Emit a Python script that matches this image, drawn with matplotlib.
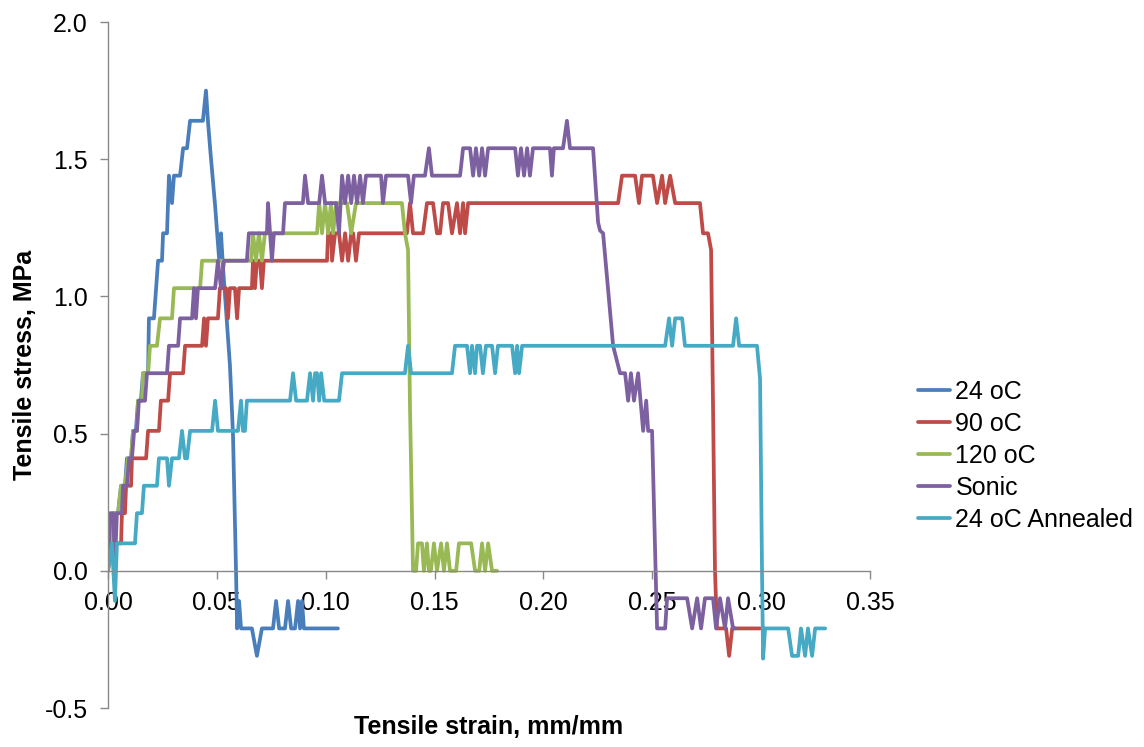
import matplotlib
matplotlib.use("Agg")
import matplotlib.pyplot as plt

plt.rcParams['font.family'] = ['Liberation Sans', 'DejaVu Sans']

series_names = ["24 oC", "90 oC", "120 oC", "Sonic", "24 oC Annealed"]
series_colors = ["#4A7EBB", "#BE4B48", "#98B954", "#7D60A0", "#46AAC5"]

strain_24 = [0.0000, 0.0009, 0.0018, 0.0028, 0.0046, 0.0060, 0.0078, 0.0087, 0.0106, 0.0115,
             0.0128, 0.0138, 0.0151, 0.0161, 0.0184, 0.0188, 0.0211, 0.0230, 0.0248, 0.0253,
             0.0271, 0.0280, 0.0294, 0.0303, 0.0331, 0.0345, 0.0363, 0.0377, 0.0436, 0.0450,
             0.0459, 0.0469, 0.0492, 0.0510, 0.0519, 0.0528, 0.0560, 0.0574, 0.0588, 0.0593,
             0.0602, 0.0611, 0.0661, 0.0684, 0.0707, 0.0758, 0.0772, 0.0786, 0.0813, 0.0827,
             0.0841, 0.0859, 0.0873, 0.0882, 0.0891, 0.0900, 0.1056]
stress_24 = [0.00, 0.10, 0.10, 0.21, 0.21, 0.31, 0.31, 0.41, 0.41, 0.51,
             0.51, 0.62, 0.62, 0.72, 0.72, 0.92, 0.92, 1.13, 1.13, 1.23,
             1.23, 1.44, 1.34, 1.44, 1.44, 1.54, 1.54, 1.64, 1.64, 1.75,
             1.64, 1.54, 1.33, 1.14, 1.23, 1.11, 0.75, 0.50, 0.00, -0.21,
             -0.11, -0.21, -0.21, -0.31, -0.21, -0.21, -0.11, -0.21, -0.21, -0.11,
             -0.21, -0.21, -0.11, -0.21, -0.11, -0.21, -0.21]

strain_90 = [0.0000, 0.0014, 0.0060, 0.0064, 0.0078, 0.0083, 0.0106, 0.0110, 0.0175, 0.0184,
             0.0234, 0.0243, 0.0276, 0.0285, 0.0345, 0.0354, 0.0432, 0.0441, 0.0450, 0.0459,
             0.0505, 0.0514, 0.0542, 0.0551, 0.0560, 0.0583, 0.0593, 0.0602, 0.0661, 0.0666,
             0.0675, 0.0684, 0.0698, 0.0707, 0.0716, 0.1006, 0.1011, 0.1025, 0.1029, 0.1043,
             0.1061, 0.1075, 0.1089, 0.1103, 0.1117, 0.1126, 0.1139, 0.1153, 0.1373, 0.1387,
             0.1401, 0.1447, 0.1465, 0.1493, 0.1511, 0.1525, 0.1539, 0.1562, 0.1580, 0.1603,
             0.1617, 0.1631, 0.1640, 0.1654, 0.2343, 0.2361, 0.2421, 0.2439, 0.2453, 0.2503,
             0.2522, 0.2545, 0.2559, 0.2582, 0.2605, 0.2719, 0.2733, 0.2756, 0.2770, 0.2779,
             0.2788, 0.2797, 0.2839, 0.2853, 0.2867, 0.2995]
stress_90 = [0.00, 0.10, 0.10, 0.21, 0.21, 0.31, 0.31, 0.41, 0.41, 0.51,
             0.51, 0.62, 0.62, 0.72, 0.72, 0.82, 0.82, 0.92, 0.82, 0.92,
             0.92, 1.03, 1.03, 0.92, 1.03, 1.03, 0.92, 1.03, 1.03, 1.13,
             1.03, 1.13, 1.13, 1.03, 1.13, 1.13, 1.23, 1.23, 1.13, 1.23,
             1.23, 1.13, 1.23, 1.13, 1.23, 1.23, 1.13, 1.23, 1.23, 1.34,
             1.23, 1.23, 1.34, 1.34, 1.23, 1.23, 1.34, 1.34, 1.23, 1.34,
             1.23, 1.34, 1.23, 1.34, 1.34, 1.44, 1.44, 1.34, 1.44, 1.44,
             1.34, 1.44, 1.34, 1.44, 1.34, 1.34, 1.23, 1.23, 1.17, 0.60,
             0.00, -0.21, -0.21, -0.31, -0.21, -0.21]

strain_120 = [0.0000, 0.0005, 0.0018, 0.0028, 0.0046, 0.0060, 0.0078, 0.0092, 0.0106, 0.0115,
              0.0133, 0.0138, 0.0156, 0.0161, 0.0184, 0.0193, 0.0225, 0.0239, 0.0294, 0.0303,
              0.0423, 0.0432, 0.0657, 0.0666, 0.0680, 0.0693, 0.0707, 0.0721, 0.0960, 0.0970,
              0.0983, 0.0997, 0.1011, 0.1024, 0.1034, 0.1048, 0.1098, 0.1117, 0.1139, 0.1350,
              0.1364, 0.1378, 0.1387, 0.1401, 0.1415, 0.1424, 0.1442, 0.1451, 0.1465, 0.1474,
              0.1483, 0.1497, 0.1511, 0.1530, 0.1543, 0.1557, 0.1571, 0.1599, 0.1612, 0.1668,
              0.1686, 0.1705, 0.1718, 0.1732, 0.1746, 0.1764, 0.1787]
stress_120 = [0.00, 0.10, 0.10, 0.21, 0.21, 0.31, 0.31, 0.41, 0.41, 0.51,
              0.51, 0.62, 0.62, 0.72, 0.72, 0.82, 0.82, 0.92, 0.92, 1.03,
              1.03, 1.13, 1.13, 1.23, 1.13, 1.23, 1.13, 1.23, 1.23, 1.34,
              1.23, 1.34, 1.23, 1.34, 1.23, 1.34, 1.34, 1.23, 1.34, 1.34,
              1.23, 1.17, 0.60, 0.00, 0.00, 0.10, 0.10, 0.00, 0.10, 0.00,
              0.00, 0.10, 0.00, 0.10, 0.00, 0.10, 0.00, 0.00, 0.10, 0.10,
              0.00, 0.00, 0.10, 0.00, 0.10, 0.00, 0.00]

strain_sonic = [0.0000, 0.0009, 0.0023, 0.0032, 0.0041, 0.0064, 0.0069, 0.0087, 0.0097, 0.0110,
                0.0120, 0.0133, 0.0142, 0.0170, 0.0179, 0.0271, 0.0280, 0.0322, 0.0331, 0.0386,
                0.0395, 0.0404, 0.0413, 0.0492, 0.0505, 0.0519, 0.0533, 0.0638, 0.0647, 0.0730,
                0.0735, 0.0753, 0.0762, 0.0804, 0.0813, 0.0895, 0.0905, 0.0919, 0.0970, 0.0983,
                0.0997, 0.1048, 0.1061, 0.1075, 0.1089, 0.1103, 0.1117, 0.1130, 0.1144, 0.1158,
                0.1171, 0.1185, 0.1254, 0.1263, 0.1277, 0.1378, 0.1392, 0.1405, 0.1456, 0.1474,
                0.1488, 0.1617, 0.1631, 0.1663, 0.1677, 0.1690, 0.1705, 0.1718, 0.1732, 0.1746,
                0.1870, 0.1883, 0.1897, 0.1911, 0.1925, 0.1938, 0.1952, 0.2030, 0.2039, 0.2048,
                0.2090, 0.2108, 0.2122, 0.2228, 0.2251, 0.2260, 0.2274, 0.2320, 0.2352, 0.2375,
                0.2389, 0.2402, 0.2416, 0.2435, 0.2458, 0.2472, 0.2481, 0.2499, 0.2522, 0.2559,
                0.2568, 0.2660, 0.2683, 0.2706, 0.2724, 0.2742, 0.2779, 0.2793, 0.2811, 0.2834,
                0.2848, 0.2871, 0.2880]
stress_sonic = [0.00, 0.21, 0.21, 0.03, 0.21, 0.21, 0.31, 0.31, 0.41, 0.41,
                0.51, 0.51, 0.62, 0.62, 0.72, 0.72, 0.82, 0.82, 0.92, 0.92,
                1.03, 0.92, 1.03, 1.03, 1.13, 1.03, 1.13, 1.13, 1.23, 1.23,
                1.34, 1.13, 1.23, 1.23, 1.34, 1.34, 1.44, 1.34, 1.34, 1.44,
                1.34, 1.34, 1.23, 1.44, 1.34, 1.44, 1.34, 1.44, 1.34, 1.44,
                1.34, 1.44, 1.44, 1.34, 1.44, 1.44, 1.34, 1.44, 1.44, 1.54,
                1.44, 1.44, 1.54, 1.54, 1.44, 1.54, 1.44, 1.54, 1.44, 1.54,
                1.54, 1.44, 1.54, 1.44, 1.54, 1.44, 1.54, 1.54, 1.44, 1.54,
                1.54, 1.64, 1.54, 1.54, 1.27, 1.24, 1.23, 0.82, 0.72, 0.72,
                0.62, 0.72, 0.62, 0.72, 0.51, 0.62, 0.51, 0.51, -0.21, -0.21,
                -0.10, -0.10, -0.21, -0.10, -0.21, -0.10, -0.10, -0.21, -0.10, -0.21,
                -0.10, -0.21, -0.21]

strain_ann = [0.0000, 0.0018, 0.0032, 0.0041, 0.0124, 0.0133, 0.0156, 0.0165, 0.0225, 0.0234,
              0.0271, 0.0280, 0.0294, 0.0326, 0.0340, 0.0354, 0.0363, 0.0377, 0.0478, 0.0492,
              0.0505, 0.0597, 0.0611, 0.0620, 0.0629, 0.0638, 0.0836, 0.0850, 0.0864, 0.0914,
              0.0928, 0.0942, 0.0951, 0.0960, 0.0970, 0.0979, 0.0993, 0.1061, 0.1075, 0.1364,
              0.1378, 0.1392, 0.1580, 0.1594, 0.1649, 0.1663, 0.1672, 0.1686, 0.1695, 0.1709,
              0.1722, 0.1736, 0.1764, 0.1778, 0.1791, 0.1856, 0.1870, 0.1879, 0.1888, 0.1902,
              0.2559, 0.2577, 0.2591, 0.2605, 0.2637, 0.2650, 0.2871, 0.2885, 0.2899, 0.2981,
              0.2995, 0.3004, 0.3009, 0.3018, 0.3124, 0.3142, 0.3170, 0.3183, 0.3202, 0.3215,
              0.3234, 0.3248, 0.3294]
stress_ann = [0.00, 0.10, -0.11, 0.10, 0.10, 0.21, 0.21, 0.31, 0.31, 0.41,
              0.41, 0.31, 0.41, 0.41, 0.51, 0.41, 0.41, 0.51, 0.51, 0.62,
              0.51, 0.51, 0.62, 0.51, 0.51, 0.62, 0.62, 0.72, 0.62, 0.62,
              0.72, 0.62, 0.72, 0.72, 0.62, 0.72, 0.62, 0.62, 0.72, 0.72,
              0.82, 0.72, 0.72, 0.82, 0.82, 0.72, 0.82, 0.72, 0.82, 0.82,
              0.72, 0.82, 0.82, 0.72, 0.82, 0.82, 0.72, 0.82, 0.72, 0.82,
              0.82, 0.92, 0.82, 0.92, 0.92, 0.82, 0.82, 0.92, 0.82, 0.82,
              0.70, 0.00, -0.32, -0.21, -0.21, -0.31, -0.31, -0.21, -0.31, -0.21,
              -0.31, -0.21, -0.21]

x_ticks = [0.00, 0.05, 0.10, 0.15, 0.20, 0.25, 0.30, 0.35]
x_tick_labels = ["0.00", "0.05", "0.10", "0.15", "0.20", "0.25", "0.30", "0.35"]
y_ticks = [-0.5, 0.0, 0.5, 1.0, 1.5, 2.0]
y_tick_labels = ["-0.5", "0.0", "0.5", "1.0", "1.5", "2.0"]

all_strain = [strain_24, strain_90, strain_120, strain_sonic, strain_ann]
all_stress = [stress_24, stress_90, stress_120, stress_sonic, stress_ann]

W, H = 1144, 747
fig = plt.figure(figsize=(W / 100, H / 100), dpi=100)
ax = fig.add_axes([108 / W, 1 - 708 / H, (870 - 108) / W, (708 - 22) / H])

for xs, ys, name, col in zip(all_strain, all_stress, series_names, series_colors):
    ax.plot(xs, ys, color=col, lw=2.7, label=name,
            solid_joinstyle='round', solid_capstyle='round')

ax.set_xlim(0, 0.35)
ax.set_ylim(-0.5, 2.0)
ax.set_xticks(x_ticks)
ax.set_xticklabels(x_tick_labels)
ax.set_yticks(y_ticks)
ax.set_yticklabels(y_tick_labels)

axis_gray = '#898989'
ax.spines['top'].set_visible(False)
ax.spines['right'].set_visible(False)
ax.spines['bottom'].set_position(('data', 0))
for s in ('left', 'bottom'):
    ax.spines[s].set_color(axis_gray)
    ax.spines[s].set_linewidth(1.0)

ax.tick_params(axis='both', direction='out', length=5.5, width=1.0,
               color=axis_gray, labelsize=18, labelcolor='black')
ax.tick_params(axis='x', pad=9)
ax.tick_params(axis='y', pad=9)

fig.text(489 / W, 1 - 727 / H, "Tensile strain, mm/mm", ha='center', va='center',
         fontsize=18, fontweight='bold')
fig.text(25 / W, 1 - 365 / H, "Tensile stress, MPa", ha='center', va='center',
         rotation=90, fontsize=18, fontweight='bold')

fig.legend(loc='center left', bbox_to_anchor=(918 / W, 1 - 456 / H),
           frameon=False, fontsize=18, handlelength=1.3, handletextpad=0.2,
           labelspacing=0.32, borderpad=0, borderaxespad=0)

fig.savefig("out.png", dpi=100)
